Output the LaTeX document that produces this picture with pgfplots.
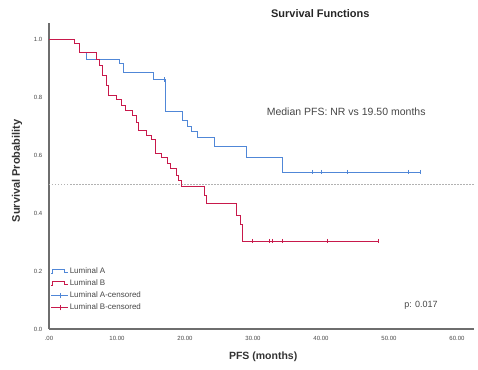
\documentclass[border=0pt]{standalone}
\usepackage{fontspec}
\setmainfont{Liberation Sans}
\usepackage{pgfplots}
\pgfplotsset{compat=1.18}
\definecolor{lumA}{RGB}{80,135,215}
\definecolor{lumB}{RGB}{200,25,75}
\definecolor{axgray}{RGB}{110,110,110}
\definecolor{txtgray}{RGB}{70,70,70}
\pgfplotsset{
  kmstepA/.style={legend image code/.code={\draw[draw=lumA, line width=0.8pt] (0cm,-0.07cm) -- (0.05cm,-0.07cm) -- (0.05cm,0.06cm) -- (0.45cm,0.06cm) -- (0.45cm,-0.02cm) -- (0.6cm,-0.02cm);}},
  kmstepB/.style={legend image code/.code={\draw[draw=lumB, line width=0.8pt] (0cm,-0.07cm) -- (0.05cm,-0.07cm) -- (0.05cm,0.06cm) -- (0.45cm,0.06cm) -- (0.45cm,-0.02cm) -- (0.6cm,-0.02cm);}},
  kmcensA/.style={legend image code/.code={\draw[draw=lumA, line width=0.5pt] (0cm,0cm) -- (0.6cm,0cm); \draw[draw=lumA, line width=0.5pt] (0.3cm,-0.1cm) -- (0.3cm,0.1cm);}},
  kmcensB/.style={legend image code/.code={\draw[draw=lumB, line width=0.5pt] (0cm,0cm) -- (0.6cm,0cm); \draw[draw=lumB, line width=0.5pt] (0.3cm,-0.1cm) -- (0.3cm,0.1cm);}},
}
\begin{document}
\begin{tikzpicture}
\path[use as bounding box] (-49pt,-40pt) rectangle (429pt,329pt);
\begin{axis}[
  at={(0,0)}, anchor=south west,
  scale only axis, width=425pt, height=306pt,
  xmin=0, xmax=62.5, ymin=0, ymax=1.055,
  axis x line=bottom, axis y line=left,
  axis line style={draw=axgray, line width=1.4pt, -},
  xtick={0,10,20,30,40,50,60},
  xticklabels={.00,10.00,20.00,30.00,40.00,50.00,60.00},
  ytick={0,0.2,0.4,0.6,0.8,1.0},
  yticklabels={0.0,0.2,0.4,0.6,0.8,1.0},
  tick style={draw=none},
  /pgf/number format/assume math mode=true,
  ticklabel style={font=\fontsize{6}{7}\selectfont, text=txtgray},
  xticklabel style={yshift=-1.5pt},
  yticklabel style={xshift=-1pt},
  clip=false,
  legend style={at={(axis cs:0.25,0.215)}, anchor=north west, draw=none, fill=none,
    font=\fontsize{8}{9}\selectfont, text=txtgray, row sep=2.5pt,
    inner sep=0pt, nodes={inner sep=1pt, text height=6pt, text depth=1.5pt}},
  legend cell align=left,
]
% reference line at 0.5
\addplot[forget plot, draw=gray!60, dash pattern=on 1.5pt off 1.5pt, line width=0.5pt] coordinates {(0,0.5) (62.5,0.5)};
% Luminal A
\addplot[const plot, color=lumA, line width=0.8pt, kmstepA]
coordinates {(0,1) (3.7,0.983) (4.4,0.955) (5.5,0.928) (10.3,0.917) (11.0,0.883) (15.4,0.86) (17.1,0.75) (19.6,0.72) (20.3,0.70) (21.0,0.68) (21.8,0.66) (24.3,0.63) (29.1,0.593) (34.3,0.541) (54.6,0.541)};
\addlegendentry{Luminal A}
% Luminal B
\addplot[const plot, color=lumB, line width=0.8pt, kmstepB]
coordinates {(0,1) (3.7,0.983) (4.4,0.955) (6.9,0.928) (7.4,0.91) (7.8,0.876) (8.4,0.84) (8.8,0.807) (9.9,0.79) (10.6,0.772) (11.3,0.755) (12.2,0.738) (12.8,0.714) (13.2,0.686) (14.3,0.669) (15.0,0.652) (15.7,0.607) (16.6,0.59) (17.4,0.572) (17.9,0.555) (18.7,0.531) (19.1,0.514) (19.5,0.49) (22.8,0.462) (23.2,0.434) (27.6,0.393) (28.1,0.359) (28.5,0.303) (48.4,0.303)};
\addlegendentry{Luminal B}
% censored
\addplot[only marks, mark=|, mark size=2.2pt, color=lumA, mark options={line width=0.6pt}, kmcensA]
coordinates {(16.9,0.86) (38.7,0.541) (40.1,0.541) (43.8,0.541) (52.9,0.541) (54.6,0.541)};
\addlegendentry{Luminal A-censored}
\addplot[only marks, mark=|, mark size=2.2pt, color=lumB, mark options={line width=0.6pt}, kmcensB]
coordinates {(29.9,0.303) (32.4,0.303) (32.8,0.303) (34.3,0.303) (40.9,0.303) (48.4,0.303)};
\addlegendentry{Luminal B-censored}
% texts
\node[font=\bfseries\fontsize{11}{13}\selectfont, text=black!85] at (axis cs:39.9,1.086) {Survival Functions};
\node[font=\fontsize{10.5}{12}\selectfont, text=txtgray] at (axis cs:43.7,0.748) {Median PFS: NR vs 19.50 months};
\node[font=\fontsize{9}{10}\selectfont, text=txtgray] at (axis cs:54.7,0.083) {p: 0.017};
\node[font=\bfseries\fontsize{10.5}{12}\selectfont, text=black!80] at (axis cs:31.5,-0.0966) {PFS (months)};
\node[font=\bfseries\fontsize{11}{12}\selectfont, text=black!80, rotate=90] at (axis cs:-4.7,0.545) {Survival Probability};
\end{axis}
\end{tikzpicture}
\end{document}
